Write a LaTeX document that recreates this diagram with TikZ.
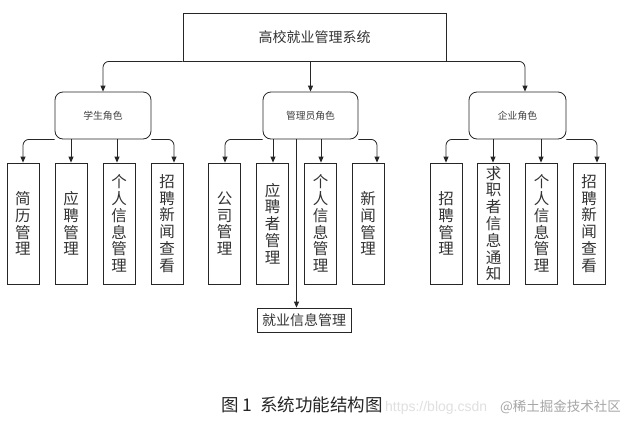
\documentclass[tikz,border=0pt]{standalone}
\usepackage{fontspec}
\setmainfont{Noto Sans CJK SC}
\newfontfamily\wmfont{Liberation Sans}
\usetikzlibrary{arrows.meta}
\begin{document}
\begin{tikzpicture}[x=1pt,y=-1pt,
  ln/.style={draw=black!85,line width=0.8pt},
  arr/.style={ln,rounded corners=6pt,-{Triangle[length=6pt,width=5pt]}},
  topbox/.style={draw=black!85,line width=0.8pt,minimum width=263pt,minimum height=48pt,inner sep=0pt,text=black!80,font=\fontsize{14}{16}\selectfont},
  rolebox/.style={draw=black!85,line width=0.8pt,rounded corners=8pt,minimum height=47pt,inner sep=0pt,text=black!75,font=\fontsize{9.8}{11}\selectfont},
  leafbox/.style={draw=black!85,line width=0.8pt,minimum width=32pt,minimum height=121pt,inner sep=0pt,align=center,text=black!80,font=\fontsize{15.5}{16.8}\selectfont},
  extbox/.style={draw=black!85,line width=0.8pt,minimum width=94pt,minimum height=24pt,inner sep=0pt,text=black!80,font=\fontsize{14}{16}\selectfont}]
\useasboundingbox[fill=white] (0,0) rectangle (633,429);
% top
\node[topbox] (top) at (314.5,37) {高校就业管理系统};
% roles
\node[rolebox,minimum width=96pt] (stu) at (103,115.5) {学生角色};
\node[rolebox,minimum width=95pt] (adm) at (310.5,115.5) {管理员角色};
\node[rolebox,minimum width=97pt] (ent) at (517.5,115.5) {企业角色};
% leaves
\node[leafbox] (l1) at (23,223.5) {简\\历\\管\\理};
\node[leafbox] (l2) at (71,223.5) {应\\聘\\管\\理};
\node[leafbox] (l3) at (119,223.5) {个\\人\\信\\息\\管\\理};
\node[leafbox] (l4) at (167,223.5) {招\\聘\\新\\闻\\查\\看};
\node[leafbox] (l5) at (224.5,223.5) {公\\司\\管\\理};
\node[leafbox] (l6) at (272.5,223.5) {应\\聘\\者\\管\\理};
\node[leafbox] (l7) at (320.5,223.5) {个\\人\\信\\息\\管\\理};
\node[leafbox] (l8) at (368,223.5) {新\\闻\\管\\理};
\node[leafbox] (l9) at (446,223.5) {招\\聘\\管\\理};
\node[leafbox] (l10) at (493.5,223.5) {求\\职\\者\\信\\息\\通\\知};
\node[leafbox] (l11) at (541.5,223.5) {个\\人\\信\\息\\管\\理};
\node[leafbox] (l12) at (589,223.5) {招\\聘\\新\\闻\\查\\看};
\node[extbox] (job) at (304,320) {就业信息管理};
% top connectors
\draw[arr] (top.south west) -| (stu.north);
\draw[arr] (top.south -| adm.north) -- (adm.north);
\draw[arr] (top.south east) -| (ent.north -| 525,0);
% student
\draw[arr] (stu.south west) -| (l1.north);
\draw[arr] (stu.south -| 71,0) -- (l2.north -| 71,0);
\draw[arr] (stu.south -| 117,0) -- (l3.north -| 117,0);
\draw[arr] (stu.south east) -| (l4.north -| 174,0);
% admin
\draw[arr] (adm.south west) -| (l5.north -| 225,0);
\draw[arr] (adm.south -| 273,0) -- (l6.north -| 273,0);
\draw[arr] (adm.south -| 321,0) -- (l7.north -| 321,0);
\draw[arr] (adm.south east) -| (l8.north -| 377,0);
\draw[arr] (adm.south -| 296.5,0) -- (job.north -| 296.5,0);
% enterprise
\draw[arr] (ent.south west) -| (l9.north);
\draw[arr] (ent.south -| 493,0) -- (l10.north -| 493,0);
\draw[arr] (ent.south -| 541,0) -- (l11.north -| 541,0);
\draw[arr] (ent.south east) -| (l12.north -| 597,0);
% caption
\node[anchor=west,inner sep=0pt,text=black!85,font=\fontsize{17.5}{19}\selectfont] (cap) at (221,405) {图\ 1\ \ 系统功能结构图};
\node[anchor=west,inner sep=0pt,text=black!12,font=\wmfont\fontsize{14}{16}\selectfont] (wm1) at (385,408) {https://blog.csdn};
\node[anchor=west,inner sep=0pt,text=black!35,font=\fontsize{13.5}{15}\selectfont] (wm2) at (500,407) {@稀土掘金技术社区};
\end{tikzpicture}
\end{document}
